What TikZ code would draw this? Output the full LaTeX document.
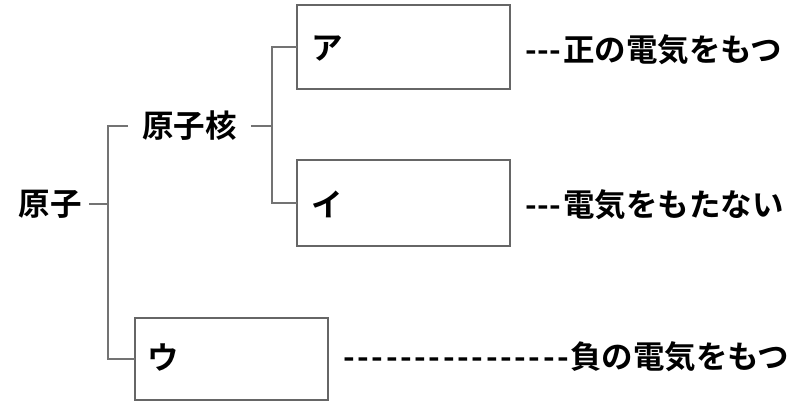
\documentclass[tikz,border=0pt]{standalone}
\usepackage{fontspec}
\newfontfamily\jp[BoldFont={* Bold}]{Noto Sans CJK JP}
\newcommand\dashrun[2]{\makebox[#1][s]{#2}}
\begin{document}
\begin{tikzpicture}[x=1pt,y=-1pt,
  lbl/.style={font=\jp\bfseries\fontsize{31.5}{31.5}\selectfont, inner sep=0pt},
  conn/.style={draw=black!55, line width=1.6pt},
  box/.style={draw=black!60, line width=1.6pt, fill=white},
]
\useasboundingbox (0,0) rectangle (793,402);
\node[lbl, inner xsep=7pt, anchor=east] (atom) at (89,204) {原子};
\node[lbl, inner xsep=14pt, anchor=west] (nucleus) at (128,126) {原子核};
\draw[box] (297,5) rectangle (510,89);
\node[minimum width=213pt, minimum height=84pt, inner sep=0pt] (boxA) at (403.5,47) {};
\draw[box] (297,160) rectangle (510,246);
\node[minimum width=213pt, minimum height=86pt, inner sep=0pt] (boxI) at (403.5,203) {};
\draw[box] (135,318) rectangle (328,400);
\node[minimum width=193pt, minimum height=82pt, inner sep=0pt] (boxU) at (231.5,359) {};
\node[lbl, anchor=west] (la) at (311,49) {ア};
\node[lbl, anchor=west] (li) at (311,204) {イ};
\node[lbl, anchor=west] (lu) at (147,358) {ウ};
\node[lbl, anchor=west] (ta) at (525,50) {\dashrun{36pt}{-\hfill-\hfill-}\hspace{2pt}正の電気をもつ};
\node[lbl, anchor=west] (ti) at (525,205) {\dashrun{36pt}{-\hfill-\hfill-}\hspace{2pt}電気をもたない};
\node[lbl, anchor=west] (tu) at (343,357) {\dashrun{226pt}{-\hfill-\hfill-\hfill-\hfill-\hfill-\hfill-\hfill-\hfill-\hfill-\hfill-\hfill-\hfill-\hfill-\hfill-\hfill-}\hspace{1pt}負の電気をもつ};
\coordinate (j1) at (108,204);
\coordinate (j2) at (272,126);
\draw[conn] (atom.east) -- (j1);
\draw[conn] (nucleus.west) -| (j1) |- (boxU.west);
\draw[conn] (nucleus.east) -- (j2);
\draw[conn] (boxA.west) -| (j2) |- (boxI.west);
\end{tikzpicture}
\end{document}
